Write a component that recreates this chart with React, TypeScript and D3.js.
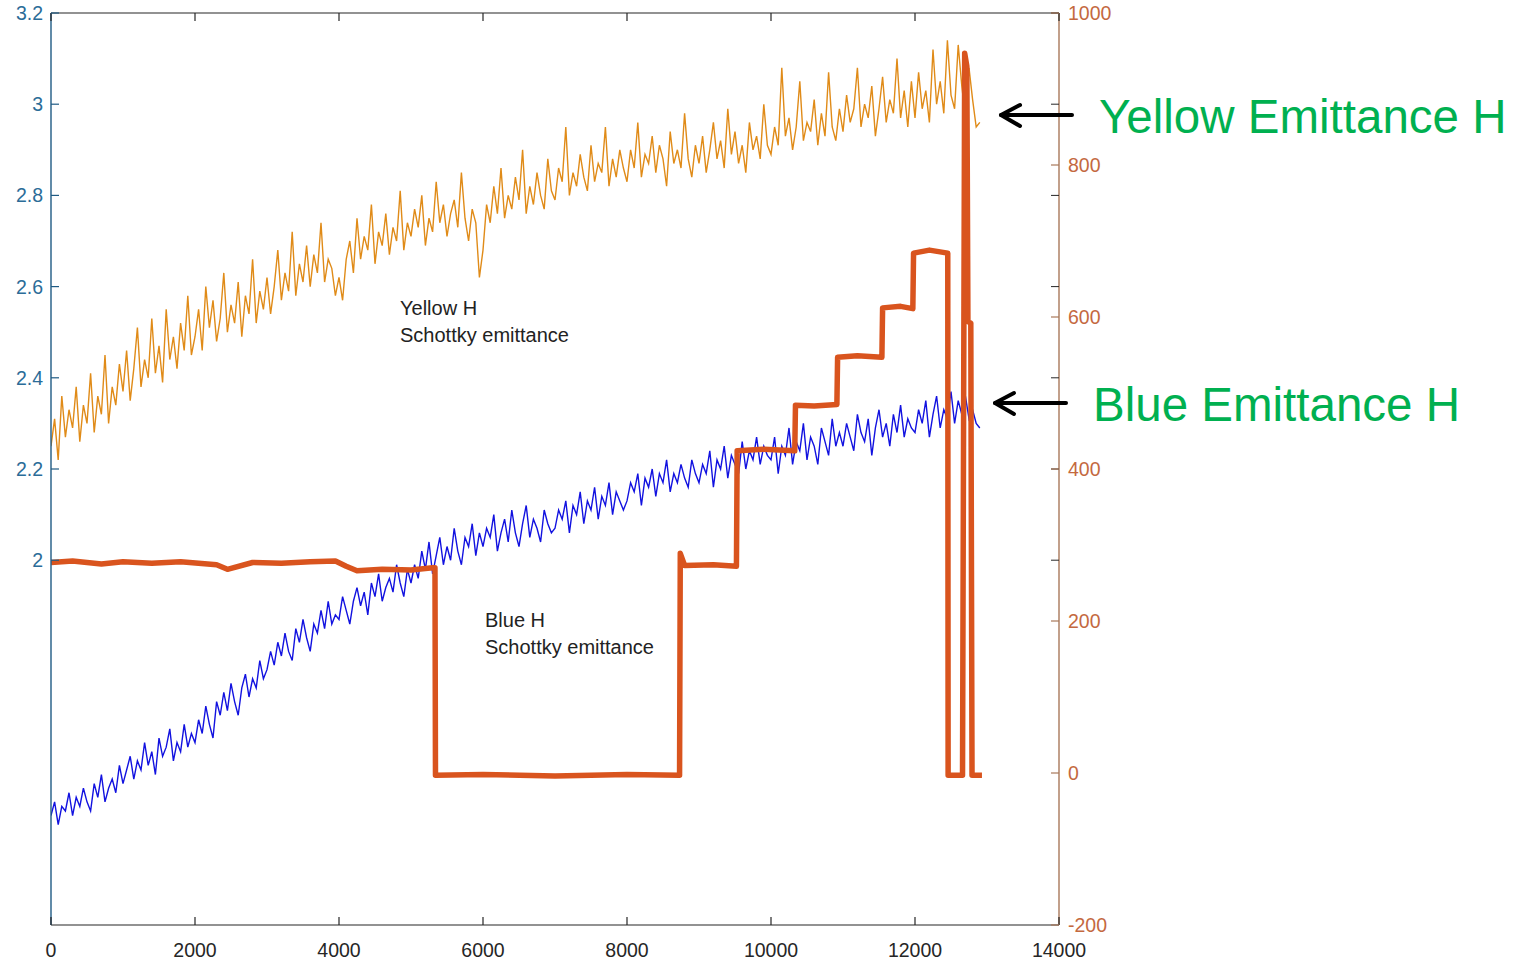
import React from "react";
import * as d3 from "d3";

// ---------- data ----------
const SAMPLE_STEP = 50; // time units between samples of the emittance traces

const yellowH: number[] = [
  2.25, 2.31, 2.22, 2.36, 2.27, 2.33, 2.29, 2.38, 2.26, 2.34, 2.30, 2.41, 2.28, 2.36, 2.32, 2.45, 2.30, 2.38, 2.34, 2.43,
  2.37, 2.46, 2.35, 2.42, 2.51, 2.38, 2.44, 2.40, 2.53, 2.41, 2.47, 2.39, 2.55, 2.44, 2.49, 2.42, 2.52, 2.46, 2.58, 2.45,
  2.49, 2.55, 2.46, 2.60, 2.51, 2.57, 2.48, 2.53, 2.63, 2.50, 2.56, 2.52, 2.61, 2.49, 2.58, 2.54, 2.66, 2.52, 2.59, 2.55,
  2.62, 2.54, 2.60, 2.68, 2.57, 2.63, 2.59, 2.72, 2.58, 2.65, 2.61, 2.69, 2.60, 2.67, 2.63, 2.74, 2.61, 2.66, 2.64, 2.58,
  2.62, 2.57, 2.66, 2.70, 2.63, 2.75, 2.66, 2.71, 2.68, 2.78, 2.65, 2.72, 2.69, 2.76, 2.67, 2.73, 2.70, 2.81, 2.68, 2.74,
  2.71, 2.77, 2.73, 2.80, 2.69, 2.75, 2.72, 2.83, 2.74, 2.78, 2.71, 2.76, 2.79, 2.73, 2.85, 2.75, 2.70, 2.77, 2.74, 2.62,
  2.68, 2.78, 2.74, 2.82, 2.76, 2.86, 2.75, 2.80, 2.77, 2.84, 2.79, 2.90, 2.76, 2.82, 2.78, 2.85, 2.80, 2.77, 2.88, 2.81,
  2.79, 2.86, 2.83, 2.95, 2.80, 2.85, 2.82, 2.89, 2.84, 2.81, 2.91, 2.83, 2.87, 2.85, 2.95, 2.82, 2.88, 2.84, 2.90, 2.86,
  2.83, 2.90, 2.86, 2.96, 2.84, 2.89, 2.87, 2.93, 2.85, 2.91, 2.88, 2.82, 2.94, 2.87, 2.90, 2.86, 2.98, 2.88, 2.84, 2.91,
  2.87, 2.93, 2.85, 2.90, 2.96, 2.88, 2.92, 2.86, 2.99, 2.89, 2.94, 2.87, 2.91, 2.85, 2.96, 2.90, 2.93, 2.88, 3.00, 2.91,
  2.89, 2.95, 2.91, 3.08, 2.93, 2.97, 2.90, 2.95, 3.05, 2.92, 2.96, 2.94, 3.01, 2.91, 2.98, 2.93, 3.07, 2.95, 2.92, 2.99,
  2.94, 3.02, 2.96, 2.99, 3.08, 2.95, 3.00, 2.97, 3.04, 2.93, 2.99, 3.06, 2.96, 3.01, 2.98, 3.10, 2.97, 3.03, 2.95, 3.05,
  2.97, 3.07, 2.99, 3.03, 2.96, 3.12, 3.00, 3.05, 2.98, 3.14, 3.02, 2.99, 3.13, 3.04, 2.97, 3.08, 3.01, 2.95, 2.96,
];

const blueH: number[] = [
  1.44, 1.47, 1.42, 1.46, 1.45, 1.49, 1.44, 1.48, 1.46, 1.50, 1.47, 1.45, 1.51, 1.48, 1.53, 1.47, 1.50, 1.52, 1.49, 1.55,
  1.51, 1.54, 1.57, 1.52, 1.56, 1.54, 1.60, 1.55, 1.58, 1.53, 1.61, 1.57, 1.59, 1.63, 1.56, 1.60, 1.58, 1.64, 1.59, 1.62,
  1.60, 1.65, 1.62, 1.68, 1.64, 1.61, 1.69, 1.66, 1.71, 1.67, 1.73, 1.69, 1.66, 1.72, 1.75, 1.70, 1.74, 1.72, 1.78, 1.74,
  1.76, 1.80, 1.77, 1.82, 1.79, 1.84, 1.80, 1.78, 1.85, 1.82, 1.87, 1.83, 1.80, 1.86, 1.84, 1.89, 1.85, 1.91, 1.86, 1.88,
  1.87, 1.92, 1.89, 1.86, 1.91, 1.94, 1.90, 1.93, 1.88, 1.95, 1.92, 1.97, 1.91, 1.94, 1.96, 1.93, 1.99, 1.95, 1.92, 1.98,
  1.95, 1.99, 1.96, 2.02, 1.98, 2.04, 1.97, 2.01, 2.05, 1.99, 2.03, 2.00, 2.07, 2.02, 1.99, 2.05, 2.03, 2.08, 2.01, 2.06,
  2.03, 2.07, 2.05, 2.10, 2.02, 2.06, 2.09, 2.04, 2.11, 2.06, 2.03, 2.08, 2.12, 2.05, 2.09, 2.07, 2.04, 2.11, 2.08, 2.06,
  2.07, 2.11, 2.09, 2.13, 2.06, 2.12, 2.10, 2.15, 2.08, 2.13, 2.11, 2.16, 2.09, 2.14, 2.12, 2.17, 2.10, 2.15, 2.13, 2.11,
  2.13, 2.17, 2.15, 2.19, 2.12, 2.18, 2.16, 2.20, 2.14, 2.19, 2.17, 2.22, 2.15, 2.19, 2.17, 2.21, 2.18, 2.16, 2.22, 2.19,
  2.17, 2.21, 2.19, 2.24, 2.16, 2.22, 2.20, 2.25, 2.18, 2.23, 2.21, 2.19, 2.26, 2.20, 2.24, 2.22, 2.27, 2.21, 2.25, 2.23,
  2.22, 2.27, 2.19, 2.25, 2.23, 2.29, 2.21, 2.26, 2.24, 2.30, 2.22, 2.27, 2.25, 2.21, 2.29, 2.26, 2.23, 2.31, 2.25, 2.28,
  2.25, 2.30, 2.27, 2.24, 2.32, 2.28, 2.26, 2.31, 2.23, 2.29, 2.33, 2.27, 2.30, 2.25, 2.32, 2.28, 2.34, 2.27, 2.31, 2.29,
  2.28, 2.33, 2.30, 2.35, 2.27, 2.32, 2.36, 2.29, 2.33, 2.31, 2.37, 2.30, 2.35, 2.32, 2.36, 2.31, 2.33, 2.30, 2.29,
];

// Schottky (right axis) trace: breakpoints
const schottkyX: number[] = [
  0, 300, 700, 1000, 1400, 1800, 2300, 2450, 2800, 3200, 3600, 3950, 4100, 4250, 4600, 5000, 5300, 5333,
  5340, 6000, 7000, 8000, 8730, 8740, 8800, 9200, 9520, 9530, 9900, 10330, 10340, 10600, 10915, 10925,
  11200, 11540, 11550, 11800, 11970, 11980, 12200, 12455, 12460, 12660, 12690, 12720, 12735, 12775, 12792, 12930,
];
const schottkyY: number[] = [
  277, 279, 275, 278, 276, 278, 274, 268, 277, 276, 278, 279, 272, 266, 268, 267, 270, 270,
  -3, -2, -4, -2, -3, 289, 273, 274, 272, 424, 426, 424, 484, 483, 485, 547,
  549, 547, 612, 614, 611, 684, 688, 684, -3, -3, 947, 930, 594, 592, -3, -3,
];

const xTicks: number[] = [0, 2000, 4000, 6000, 8000, 10000, 12000, 14000];
const leftTicks: number[] = [2, 2.2, 2.4, 2.6, 2.8, 3, 3.2];
const rightTicks: number[] = [-200, 0, 200, 400, 600, 800, 1000];

// ---------- layout ----------
const W = 1527;
const H = 961;
const L = 51, R = 1059, T = 13, B = 925;

const FONT = "'Liberation Sans', Arial, Helvetica, sans-serif";
const LEFT_COLOR = "#2b6c98";
const LEFT_AXIS = "#1f5b84";
const RIGHT_COLOR = "#c4693f";
const RIGHT_AXIS = "#a8785a";
const DARK = "#262626";

export default function App() {
  const x = d3.scaleLinear().domain([0, 14000]).range([L, R]);
  const yL = d3.scaleLinear().domain([1.2, 3.2]).range([B, T]);
  const yR = d3.scaleLinear().domain([-200, 1000]).range([B, T]);

  const lineL = d3
    .line<number>()
    .x((_, i) => x(i * SAMPLE_STEP))
    .y((d) => yL(d));
  const schottky = schottkyX.map((v, i) => [v, schottkyY[i]] as [number, number]);
  const lineR = d3
    .line<[number, number]>()
    .x((d) => x(d[0]))
    .y((d) => yR(d[1]));

  const tickLen = 8;

  return (
    <svg
      width={W}
      height={H}
      style={{ position: "absolute", left: 0, top: 0, background: "#fff" }}
      fontFamily={FONT}
    >
      <rect x={0} y={0} width={W} height={H} fill="#fff" />
      <defs>
        <clipPath id="plot">
          <rect x={L} y={T} width={R - L} height={B - T} />
        </clipPath>
      </defs>

      {/* data */}
      <g clipPath="url(#plot)">
        <path d={lineL(yellowH) || ""} fill="none" stroke="#e08b18" strokeWidth={1.4} />
        <path d={lineL(blueH) || ""} fill="none" stroke="#1212e0" strokeWidth={1.4} />
        <path
          d={lineR(schottky) || ""}
          fill="none"
          stroke="#d9541e"
          strokeWidth={5.5}
          strokeLinejoin="round"
        />
      </g>

      {/* axes lines */}
      <line x1={L} x2={R} y1={T} y2={T} stroke={DARK} strokeWidth={1.2} />
      <line x1={L} x2={R} y1={B} y2={B} stroke={DARK} strokeWidth={1.2} />
      <line x1={L} x2={L} y1={T} y2={B} stroke={LEFT_AXIS} strokeWidth={1.4} />
      <line x1={R} x2={R} y1={T} y2={B} stroke={RIGHT_AXIS} strokeWidth={1.4} />

      {/* x ticks */}
      {xTicks.map((t) => (
        <g key={"x" + t}>
          <line x1={x(t)} x2={x(t)} y1={B} y2={B - tickLen} stroke={DARK} strokeWidth={1.2} />
          <line x1={x(t)} x2={x(t)} y1={T} y2={T + tickLen} stroke={DARK} strokeWidth={1.2} />
          <text x={x(t)} y={957} textAnchor="middle" fontSize={19.5} fill={DARK}>
            {t}
          </text>
        </g>
      ))}

      {/* left ticks (also mirrored on the right side) */}
      {leftTicks.map((t) => (
        <g key={"l" + t}>
          <line x1={L} x2={L + tickLen} y1={yL(t)} y2={yL(t)} stroke={LEFT_AXIS} strokeWidth={1.2} />
          <line x1={R} x2={R - tickLen} y1={yL(t)} y2={yL(t)} stroke={DARK} strokeWidth={1} />
          <text x={43} y={yL(t) + 7} textAnchor="end" fontSize={19.5} fill={LEFT_COLOR}>
            {String(t)}
          </text>
        </g>
      ))}

      {/* right ticks */}
      {rightTicks.map((t) => (
        <g key={"r" + t}>
          <line x1={R} x2={R - tickLen} y1={yR(t)} y2={yR(t)} stroke={RIGHT_AXIS} strokeWidth={1.2} />
          <text x={1068} y={yR(t) + 7} textAnchor="start" fontSize={19.5} fill={RIGHT_COLOR}>
            {t < 0 ? "-" + Math.abs(t) : String(t)}
          </text>
        </g>
      ))}

      {/* in-plot annotations */}
      <g fontSize={20} fill="#222">
        <text x={400} y={315}>Yellow H</text>
        <text x={400} y={342}>Schottky emittance</text>
        <text x={485} y={627}>Blue H</text>
        <text x={485} y={654}>Schottky emittance</text>
      </g>

      {/* arrows */}
      <g stroke="#000" strokeWidth={4} fill="none" strokeLinecap="round" strokeLinejoin="round">
        <line x1={1001} y1={115} x2={1072} y2={115} />
        <polyline points="1020,105 1001,115 1020,126" />
        <line x1={995} y1={403} x2={1066} y2={403} />
        <polyline points="1014,393 995,403 1014,414" />
      </g>

      {/* green labels */}
      <g fontSize={47.5} fill="#00b050">
        <text x={1099} y={133}>Yellow Emittance H</text>
        <text x={1093} y={421}>Blue Emittance H</text>
      </g>
    </svg>
  );
}
